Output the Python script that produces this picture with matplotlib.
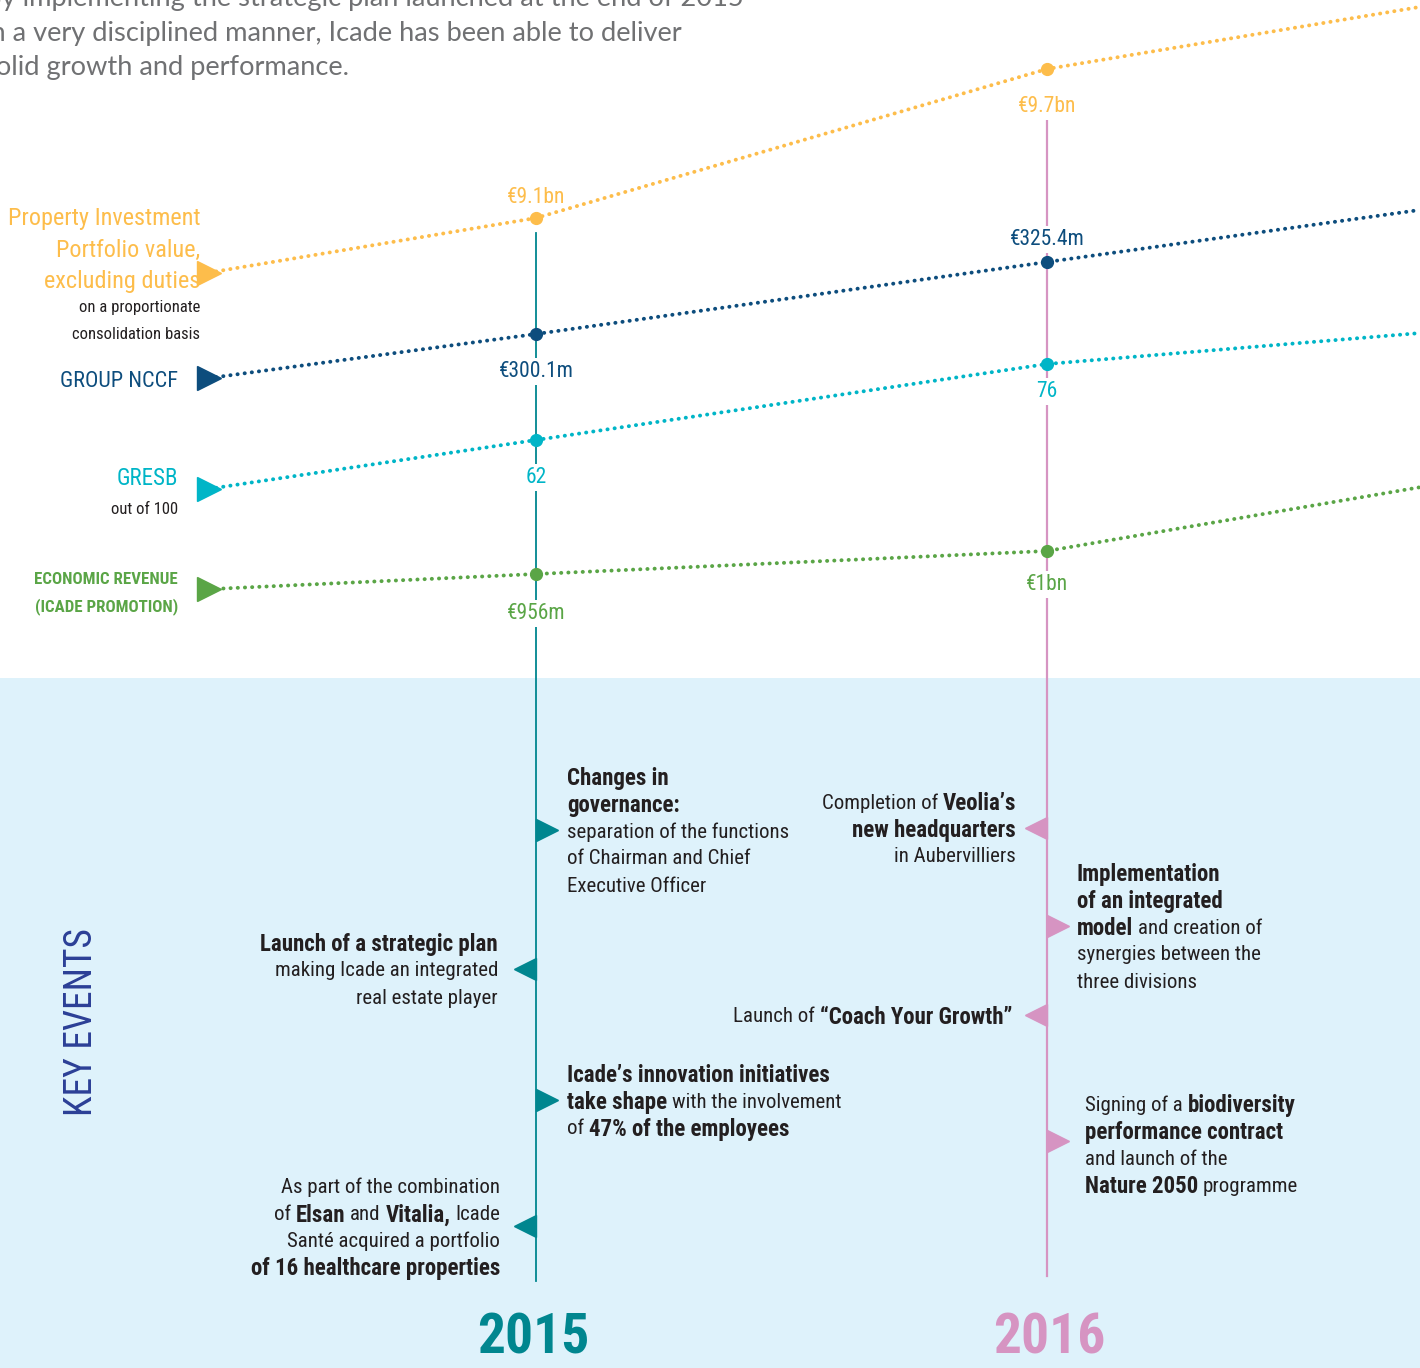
import matplotlib
matplotlib.use('Agg')
import matplotlib.pyplot as plt
from matplotlib import font_manager
from matplotlib.patches import Rectangle

# ---- data ----
years = [2015, 2016]
lead_year = 2014.36   # where the series arrows sit on the left
tail_year = 2016.73   # right edge of the page

portfolio = [9.1, 9.7]          # EUR bn
portfolio_ends = [8.88, 9.95]
portfolio_labels = ['€9.1bn', '€9.7bn']

nccf = [300.1, 325.4]           # EUR m
nccf_ends = [284.6, 343.7]
nccf_labels = ['€300.1m', '€325.4m']

gresb = [62, 76]                # out of 100
gresb_ends = [53, 81.7]
gresb_labels = ['62', '76']

revenue = [956, 1000]           # EUR m
revenue_ends = [927, 1122]
revenue_labels = ['€956m', '€1bn']

intro = ['By implementing the strategic plan launched at the end of 2015',
         'in a very disciplined manner, Icade has been able to deliver',
         'solid growth and performance.']

B, R = True, False
# (side, arrow y, text gap from the timeline, line the arrow points at, lines)
events_2015 = [
    ('right', 830, 31, 2, [[('Changes in', B)], [('governance:', B)],
                           [('separation of the functions', R)],
                           [('of Chairman and Chief', R)], [('Executive Officer', R)]]),
    ('left', 969, 38, 1, [[('Launch of a strategic plan', B)],
                          [('making Icade an integrated', R)],
                          [('real estate player', R)]]),
    ('right', 1100, 31, 1, [[('Icade’s innovation initiatives', B)],
                            [('take shape', B), (' with the involvement', R)],
                            [('of ', R), ('47% of the employees', B)]]),
    ('left', 1226, 36, 1.5, [[('As part of the combination', R)],
                             [('of ', R), ('Elsan', B), (' and ', R), ('Vitalia,', B), (' Icade', R)],
                             [('Santé acquired a portfolio', R)],
                             [('of 16 healthcare properties', B)]]),
]
events_2016 = [
    ('left', 828, 31, 1, [[('Completion of ', R), ('Veolia’s', B)],
                          [('new headquarters', B)], [('in Aubervilliers', R)]]),
    ('right', 926, 30, 2, [[('Implementation', B)], [('of an integrated', B)],
                           [('model', B), (' and creation of', R)],
                           [('synergies between the', R)], [('three divisions', R)]]),
    ('left', 1015, 35, 0, [[('Launch of ', R), ('“Coach Your Growth”', B)]]),
    ('right', 1141, 38, 1.4, [[('Signing of a ', R), ('biodiversity', B)],
                              [('performance contract', B)], [('and launch of the', R)],
                              [('Nature 2050', B), (' programme', R)]]),
]

# ---- fonts ----
names = {f.name for f in font_manager.fontManager.ttflist}
NARROW = {'family': 'DejaVu Sans'}
for pref in ['Liberation Sans Narrow', 'Roboto Condensed', 'Open Sans Condensed',
             'Noto Sans Condensed', 'DejaVu Sans Condensed']:
    if pref in names:
        NARROW = {'family': pref}
        break
else:
    for f in font_manager.fontManager.ttflist:
        if f.stretch in ('condensed', 'semi-condensed', 'extra-condensed'):
            NARROW = {'family': f.name, 'fontstretch': f.stretch}
            break
LIGHT = {'family': 'Lato'} if 'Lato' in names else {'family': 'DejaVu Sans'}

# ---- colours ----
YELLOW = '#fdbd4b'
NAVY = '#0d4d7d'
CYAN = '#00b5c7'
GREEN = '#5aa546'
TEAL = '#00868f'
PINK = '#d694c2'
INK = '#231f20'
PALE = '#def2fb'

fig = plt.figure(figsize=(14.2, 13.68), dpi=100)
ax = fig.add_axes([0, 0, 1, 1])
ax.set_xlim(0, 1420)
ax.set_ylim(1368, 0)
ax.axis('off')
renderer = fig.canvas.get_renderer()

x2015, px_per_year = 536, 511


def year_x(y):
    return x2015 + (y - 2015) * px_per_year


ax.add_patch(Rectangle((0, 678), 1420, 700, color=PALE, zorder=0, lw=0))

# intro paragraph (cut off by the page edge, as in the source page)
for i, line in enumerate(intro):
    ax.text(-16, -4 + 34.5 * i, line, fontsize=19.6, color='#707173',
            va='center_baseline', ha='left', **LIGHT)

# year timelines
ax.plot([year_x(2015)] * 2, [233, 1281], color=TEAL, lw=1.3, zorder=1)
ax.plot([year_x(2016)] * 2, [117, 1276], color=PINK, lw=1.6, zorder=1)

series = [
    (portfolio, portfolio_ends, portfolio_labels, YELLOW, 218, 149 / 0.6, [-23, 35]),
    (nccf, nccf_ends, nccf_labels, NAVY, 334, 72 / 25.3, [35, -25]),
    (gresb, gresb_ends, gresb_labels, CYAN, 440, 76 / 14, [35, 25]),
    (revenue, revenue_ends, revenue_labels, GREEN, 574, 23 / 44, [37, 31]),
]
for vals, ends, labels, col, base, k, offs in series:
    def to_y(v):
        return base - (v - vals[0]) * k
    xs = [year_x(lead_year)] + [year_x(y) for y in years] + [year_x(tail_year)]
    ys = [to_y(v) for v in [ends[0]] + vals + [ends[1]]]
    ax.plot(xs, ys, color=col, lw=2.8, ls=(0, (0.05, 1.8)), dash_capstyle='round', zorder=4)
    ax.plot(xs[1:3], ys[1:3], 'o', color=col, ms=8.5, zorder=5)
    ax.plot(xs[0], ys[0], '>', color=col, ms=17, zorder=5)
    for x, y, lab, o in zip(xs[1:3], ys[1:3], labels, offs):
        ax.text(x, y + o, lab, color=col, fontsize=15.5, ha='center', va='center_baseline',
                zorder=3, bbox=dict(fc='white', ec='none', pad=2), **NARROW)

# series captions on the left
for txt, y in [('Property Investment', 216), ('Portfolio value,', 248), ('excluding duties', 279)]:
    ax.text(200, y, txt, color=YELLOW, fontsize=17.5, ha='right', va='center_baseline', **NARROW)
for txt, y in [('on a proportionate', 306), ('consolidation basis', 333)]:
    ax.text(200, y, txt, color=INK, fontsize=12, ha='right', va='center_baseline', **NARROW)
ax.text(178, 379, 'GROUP NCCF', color=NAVY, fontsize=16, ha='right', va='center_baseline', **NARROW)
ax.text(178, 476, 'GRESB', color=CYAN, fontsize=16.5, ha='right', va='center_baseline', **NARROW)
ax.text(178, 508, 'out of 100', color=INK, fontsize=12, ha='right', va='center_baseline', **NARROW)
for txt, y in [('ECONOMIC REVENUE', 578), ('(ICADE PROMOTION)', 605)]:
    ax.text(178, y, txt, color=GREEN, fontsize=12.2, ha='right', va='center_baseline',
            fontweight='bold', **NARROW)

ax.text(82, 1022, 'KEY EVENTS', color='#2b3f96', fontsize=27, rotation=90,
        ha='center', va='center', **NARROW)

SIZE = {True: 16.5, False: 15}


def run_width(s, bold):
    if not s:
        return 0
    w = []
    for t in ('|' + s + '|', '||'):
        obj = ax.text(0, 0, t, fontsize=SIZE[bold], fontweight='bold' if bold else 'normal', **NARROW)
        w.append(obj.get_window_extent(renderer).width)
        obj.remove()
    return w[0] - w[1]


def draw_runs(x, y, runs, ha):
    widths = [run_width(s, b) for s, b in runs]
    cur = x if ha == 'left' else x - sum(widths)
    for (s, b), w in zip(runs, widths):
        lead = len(s) - len(s.lstrip())
        ax.text(cur + run_width(s[:lead], b), y, s.strip(), fontsize=SIZE[b],
                fontweight='bold' if b else 'normal', color=INK,
                ha='left', va='center_baseline', **NARROW)
        cur += w


def draw_events(events, year, col):
    xc = year_x(year)
    for side, ya, gap, anchor, lines in events:
        if side == 'right':
            ax.plot(xc + 11, ya, '>', color=col, ms=16, zorder=3)
            x0, ha = xc + gap, 'left'
        else:
            ax.plot(xc - 11, ya, '<', color=col, ms=16, zorder=3)
            x0, ha = xc - gap, 'right'
        for i, runs in enumerate(lines):
            draw_runs(x0, ya + (i - anchor) * 27, runs, ha)


draw_events(events_2015, 2015, TEAL)
draw_events(events_2016, 2016, PINK)

ax.text(year_x(2015) - 3, 1338, '2015', color=TEAL, fontsize=40, ha='center',
        va='center', fontweight='bold', **NARROW)
ax.text(year_x(2016) + 2, 1338, '2016', color=PINK, fontsize=40, ha='center',
        va='center', fontweight='bold', **NARROW)

fig.savefig('out.png', dpi=100)
